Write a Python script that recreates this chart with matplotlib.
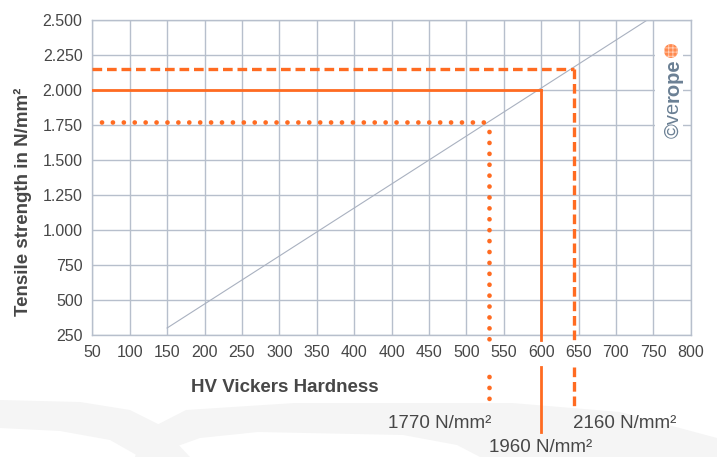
import numpy as np
import matplotlib.pyplot as plt
from matplotlib.patches import Polygon, Rectangle, Ellipse

# figure size in pixels
W, H = 717, 457

# axis values
y_ticks = [250, 500, 750, 1000, 1250, 1500, 1750, 2000, 2250, 2500]
x_ticks = [0, 50, 100, 150, 200, 250, 300, 350, 400, 450, 500, 550, 600, 650, 700, 750, 800]
# the original repeats "400", so labels and positions drift on the left side
x_tick_labels = ['50', '100', '150', '200', '250', '300', '350', '400', '400',
                 '450', '500', '550', '600', '650', '700', '750', '800']

# hardness / tensile strength reference line
diag_x = [100, 742]
diag_y = [300, 2500]

# the three wire grades (x position, y level, label)
grade_x = [530, 600, 644]
grade_y = [1770, 2000, 2150]
grade_labels = ['1770 N/mm²', '1960 N/mm²', '2160 N/mm²']

orange = '#ff6b21'
grid_c = '#b7bfcc'
text_c = '#474747'

plt.rcParams['font.family'] = ['Liberation Sans', 'DejaVu Sans']

fig = plt.figure(figsize=(W / 100, H / 100), dpi=100)


def fx(px):
    return px / W


def fy(py):
    return 1 - py / H


# faint background swooshes (figure decoration)
band_a = [(0, 400), (80, 402), (130, 410), (160, 425), (190, 457),
          (140, 457), (110, 440), (60, 431), (0, 428)]
band_b = [(143, 432), (186, 410), (295, 403), (512, 403), (620, 412), (717, 438),
          (717, 457), (480, 457), (457, 445), (403, 435), (258, 432), (200, 438),
          (175, 447), (165, 457), (135, 457)]
for band in (band_a, band_b):
    fig.add_artist(Polygon([(fx(a), fy(b)) for a, b in band], closed=True,
                           transform=fig.transFigure, facecolor='#f5f5f5',
                           edgecolor='none', zorder=-5))

left, right, top, bottom = 92.3, 690.7, 20, 335
ax = fig.add_axes([fx(left), fy(bottom), (right - left) / W, (bottom - top) / H])
ax.set_facecolor('none')
ax.set_xlim(0, 800)
ax.set_ylim(250, 2500)
ax.set_xticks(x_ticks)
ax.set_xticklabels(x_tick_labels)
ax.set_yticks(y_ticks)
ax.set_yticklabels(['{:,}'.format(v).replace(',', '.') for v in y_ticks])
ax.tick_params(length=0, labelsize=11.5, colors=text_c, pad=7)
ax.grid(True, color=grid_c, linewidth=1.0)
ax.set_axisbelow(True)
for s in ax.spines.values():
    s.set_color(grid_c)
    s.set_linewidth(1.0)


def y_at(py):
    # data y for a pixel row (used for the parts drawn outside the axes)
    return 250 + (bottom - py) / (bottom - top) * 2250


ax.plot(diag_x, diag_y, color='#a9b1c0', linewidth=0.8, zorder=2)

styles = [
    dict(linestyle=(0.3, (0.01, 2.3)), linewidth=3.4, dash_capstyle='round'),
    dict(linestyle='-', linewidth=2.0),
    dict(linestyle=(0, (2.9, 1.45)), linewidth=2.4, dash_capstyle='butt'),
]
ends = [402, 432, 408]
for gx, gy, st, end in zip(grade_x, grade_y, styles, ends):
    ax.plot([0, gx], [gy, gy], color=orange, zorder=3, **st)
    ax.plot([gx, gx], [gy, y_at(340)], color=orange, zorder=3, clip_on=False, **st)
    ax.plot([gx, gx], [y_at(367), y_at(end)], color=orange, zorder=3, clip_on=False, **st)

# grade labels
fig.text(fx(440), fy(423), grade_labels[0], ha='center', va='center', fontsize=13.5, color=text_c)
fig.text(fx(541), fy(448), grade_labels[1], ha='center', va='center', fontsize=13.5, color=text_c)
fig.text(fx(624.5), fy(423), grade_labels[2], ha='center', va='center', fontsize=13.5, color=text_c)

# axis titles
fig.text(fx(285), fy(387), 'HV Vickers Hardness', ha='center', va='center',
         fontsize=13.5, fontweight='bold', color=text_c)
fig.text(fx(23), fy(202), 'Tensile strength in N/mm²', ha='center', va='center',
         rotation=90, fontsize=13.5, fontweight='bold', color=text_c)

# verope watermark with white backing
fig.add_artist(Rectangle((fx(655), fy(145)), (683 - 655) / W, (145 - 40) / H,
                         transform=fig.transFigure, facecolor='white', edgecolor='none', zorder=5))
wm_c = '#6b8094'
t1 = fig.text(fx(671), fy(138), '©ve', rotation=90, rotation_mode='anchor', ha='left',
              va='center_baseline', fontsize=14.5, color=wm_c, zorder=6)
fig.canvas.draw()
bb = t1.get_window_extent()
fig.text(fx(671), bb.y1 / H, 'rope', rotation=90, rotation_mode='anchor', ha='left',
         va='center_baseline', fontsize=14.5, fontweight='bold', color=wm_c, zorder=6)
plt.rcParams['hatch.linewidth'] = 0.6
fig.add_artist(Ellipse((fx(671), fy(51)), 14 / W, 14 / H, transform=fig.transFigure,
                       facecolor='#ff8a4f', edgecolor='none', zorder=6))
fig.add_artist(Ellipse((fx(671), fy(51)), 14 / W, 14 / H, transform=fig.transFigure,
                       facecolor='none', edgecolor='#ffd2bb', hatch='++++', linewidth=0, zorder=7))

fig.savefig('out.png', dpi=100)
